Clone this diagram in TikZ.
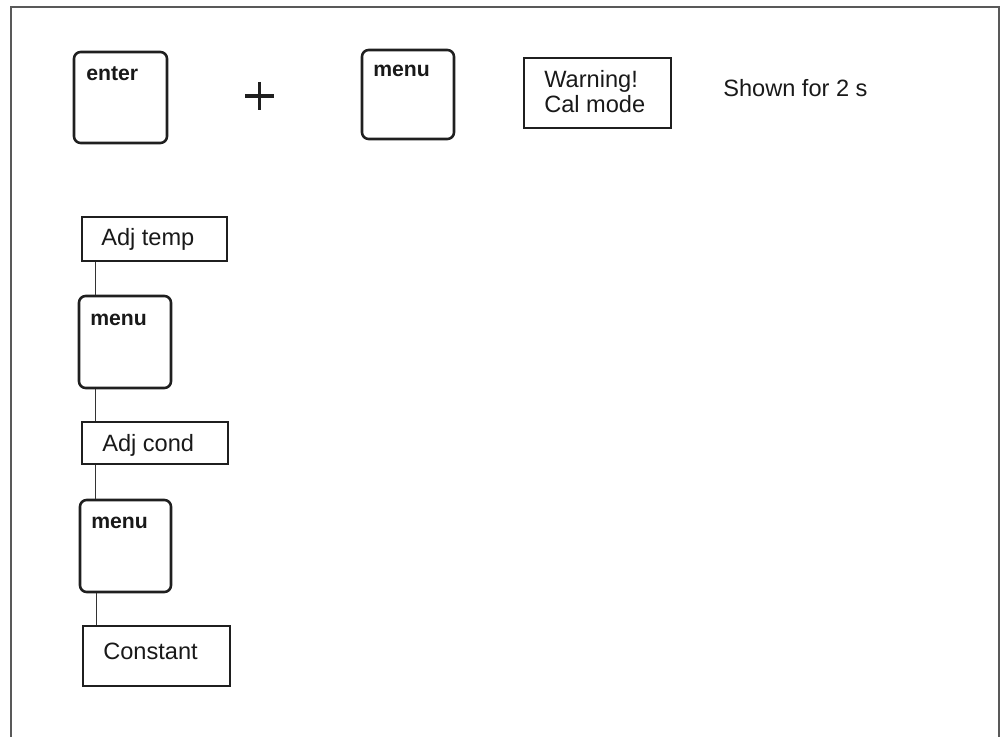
\documentclass[tikz,border=0pt]{standalone}
\usepackage{fontspec}
\setmainfont{Liberation Sans}
\begin{document}
\begin{tikzpicture}[x=0.75pt,y=-0.75pt,
  ink/.style={draw=black!88},
  keybox/.style={ink, line width=1.9pt, rounded corners=5pt, inner sep=0pt},
  dispbox/.style={ink, line width=1.1pt, inner sep=0pt},
  conn/.style={draw=black!80, line width=0.8pt},
  txt/.style={inner sep=0pt, anchor=base west, text=black!90, font=\fontsize{17.7pt}{21pt}\selectfont},
  keytxt/.style={inner sep=0pt, anchor=base west, text=black!90, font=\fontsize{15.9pt}{19pt}\selectfont\bfseries},
  frame/.style={draw=black!65, line width=1.1pt}]
\useasboundingbox (0,0) rectangle (1004,737);
\draw[frame] (11,737) -- (11,7) -- (999,7) -- (999,737);

% top row
\node[keybox, minimum width=69.75pt, minimum height=68.25pt] (enter) at (120.5,97.5) {};
\node[keytxt] (entert) at (86,81) {enter};
\draw[line width=2.6pt, black!88] (245,96) -- (274,96) (259.5,82) -- (259.5,110);
\node[keybox, minimum width=69pt, minimum height=66.75pt] (m1) at (408,94.5) {};
\node[keytxt] (m1t) at (373,77) {menu};
\node[dispbox, minimum width=110.25pt, minimum height=52.5pt] (warn) at (597.5,93) {};
\node[txt] (warn1) at (544,88) {Warning!};
\node[txt] (warn2) at (544,113) {Cal mode};
\node[txt] (shown) at (723,97) {Shown for 2 s};

% column
\node[dispbox, minimum width=108.75pt, minimum height=33pt] (adjtemp) at (154.5,239) {};
\node[txt] (adjtempt) at (101,246) {Adj temp};
\node[keybox, minimum width=69pt, minimum height=69pt] (m2) at (125,342) {};
\node[keytxt] (m2t) at (90,326) {menu};
\node[dispbox, minimum width=109.5pt, minimum height=31.5pt] (adjcond) at (155,443) {};
\node[txt] (adjcondt) at (102,452) {Adj cond};
\node[keybox, minimum width=68.25pt, minimum height=69pt] (m3) at (125.5,546) {};
\node[keytxt] (m3t) at (91,529) {menu};
\node[dispbox, minimum width=110.25pt, minimum height=45pt] (const) at (156.5,656) {};
\node[txt] (constt) at (103,660) {Constant};

\draw[conn] ([xshift=10.9pt]adjtemp.south west) -- ([xshift=10.9pt]adjtemp.south west |- m2.north);
\draw[conn] ([xshift=10.9pt]adjcond.north west) -- ([xshift=10.9pt]adjcond.north west |- m2.south);
\draw[conn] ([xshift=10.9pt]adjcond.south west) -- ([xshift=10.9pt]adjcond.south west |- m3.north);
\draw[conn] ([xshift=10.5pt]const.north west) -- ([xshift=10.5pt]const.north west |- m3.south);
\end{tikzpicture}
\end{document}
